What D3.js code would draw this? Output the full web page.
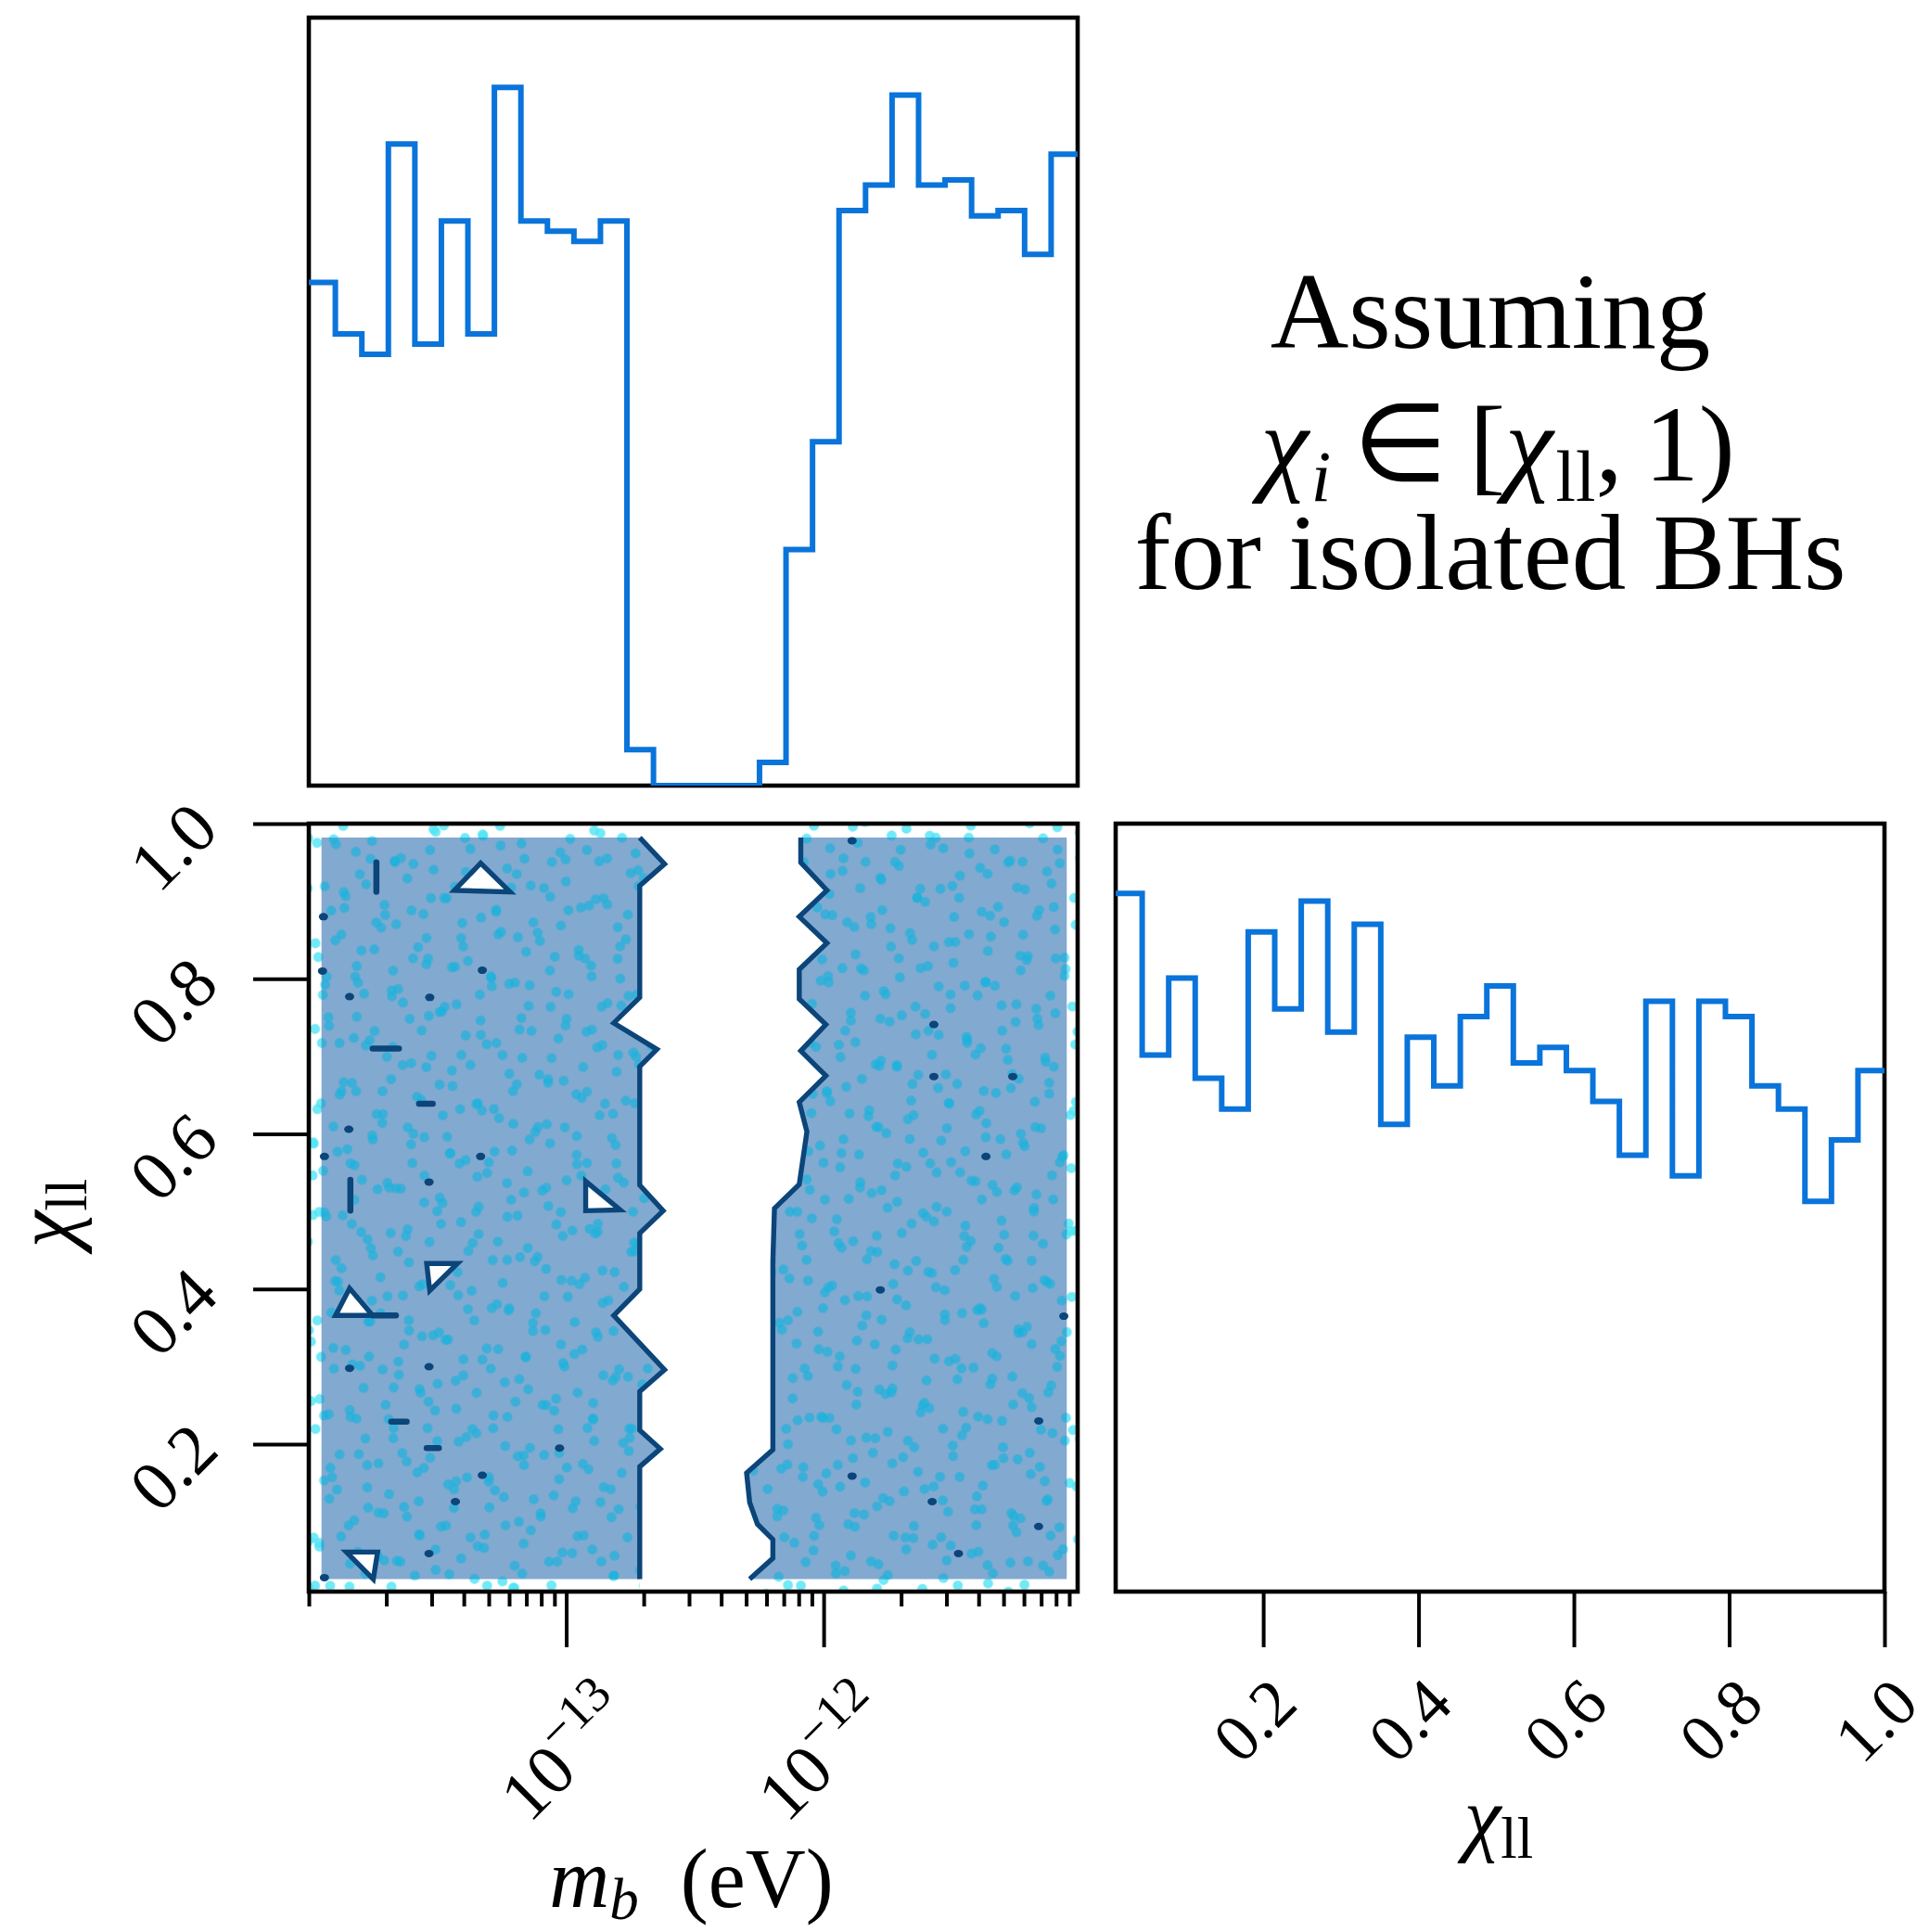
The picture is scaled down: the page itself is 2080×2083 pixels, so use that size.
<!DOCTYPE html>
<html>
<head>
<meta charset="utf-8">
<script src="https://cdn.jsdelivr.net/npm/d3@7"></script>
<style>
  html, body { margin: 0; padding: 0; background: #ffffff; }
  svg { display: block; }
  text { font-family: "Liberation Serif", "Times New Roman", serif; fill: #000; }
</style>
</head>
<body>
<svg id="chart" width="2080" height="2083"></svg>
<script>
// ---------------- data ----------------
// marginal histogram of the boson mass m_b (29 log-spaced bins)
const mbBinCounts = [98, 88, 84, 125, 86, 110, 88, 136, 110, 108, 106, 110, 7, 0, 0, 0, 0,
                     4.5, 46, 67, 112, 117, 134.5, 117, 118, 111, 112, 103.5, 123];
// marginal histogram of chi_ll (29 linear bins)
const chiBinCounts = [136, 104.5, 119.5, 100, 94, 128.5, 113.5, 134.5, 109, 130, 91, 108, 98.5,
                      112, 118, 103, 106, 101.5, 95.5, 85, 115, 81, 115, 112, 98.5, 94, 76, 88, 101.5];

const mbRange = [1e-14, 9.7e-12];
const chiRange = [0.01, 1.0];

const mbTickValues = [1e-13, 1e-12];
const mbTickExponents = ["\u221213", "\u221212"];
const chiTickValues = [0.2, 0.4, 0.6, 0.8, 1.0];
const chiTickLabels = ["0.2", "0.4", "0.6", "0.8", "1.0"];

// extent of the density grid used for the filled contour
const gridMb = [1.12e-14, 8.8e-12];
const gridChi = [0.026, 0.982];

// contour bounding the excluded band in (m_b, chi_ll): low-mass side, top to bottom
const gapLeftEdge = [
  [1.93e-13, 0.982], [2.41e-13, 0.948], [1.93e-13, 0.920], [1.93e-13, 0.776],
  [1.53e-13, 0.743], [2.25e-13, 0.709], [1.93e-13, 0.687], [1.93e-13, 0.534],
  [2.38e-13, 0.501], [1.93e-13, 0.472], [1.93e-13, 0.400], [1.53e-13, 0.366],
  [2.41e-13, 0.296], [1.93e-13, 0.268], [1.93e-13, 0.218], [2.32e-13, 0.194],
  [1.93e-13, 0.171], [1.93e-13, 0.026]
];
// high-mass side, top to bottom
const gapRightEdge = [
  [8.15e-13, 0.982], [8.15e-13, 0.950], [1.03e-12, 0.914], [8.04e-13, 0.880],
  [1.03e-12, 0.846], [8.04e-13, 0.812], [8.04e-13, 0.774], [1.02e-12, 0.741],
  [8.15e-13, 0.707], [1.02e-12, 0.675], [8.04e-13, 0.641], [8.61e-13, 0.603],
  [8.04e-13, 0.535], [6.44e-13, 0.504], [6.35e-13, 0.436], [6.35e-13, 0.193],
  [5.02e-13, 0.163], [5.16e-13, 0.125], [5.53e-13, 0.097], [6.35e-13, 0.077],
  [6.35e-13, 0.053], [5.16e-13, 0.026]
];

// small closed contour islands (holes in the filled region)
const contourTriangles = [
  [[3.68e-14, 0.914], [4.65e-14, 0.949], [6.05e-14, 0.912]],
  [[1.19e-13, 0.539], [1.19e-13, 0.501], [1.62e-13, 0.502]],
  [[2.87e-14, 0.433], [3.78e-14, 0.433], [2.95e-14, 0.398]],
  [[1.27e-14, 0.366], [1.44e-14, 0.401], [1.77e-14, 0.366]],
  [[1.40e-14, 0.061], [1.85e-14, 0.061], [1.78e-14, 0.026]]
];
// degenerate contour pieces (short segments)
const contourDashes = [
  [[1.83e-14, 0.950], [1.83e-14, 0.912]],
  [[1.77e-14, 0.710], [2.24e-14, 0.710]],
  [[2.68e-14, 0.639], [3.03e-14, 0.639]],
  [[1.45e-14, 0.541], [1.45e-14, 0.501]],
  [[1.77e-14, 0.366], [2.18e-14, 0.366]],
  [[2.09e-14, 0.229], [2.40e-14, 0.229]],
  [[2.87e-14, 0.195], [3.20e-14, 0.195]]
];
// single-cell contour specks
const contourSpecks = [
  [1.14e-14, 0.880], [1.13e-14, 0.810], [4.72e-14, 0.811], [1.44e-14, 0.777],
  [2.95e-14, 0.776], [1.43e-14, 0.606], [1.15e-14, 0.571], [4.65e-14, 0.571],
  [2.93e-14, 0.538], [1.44e-14, 0.298], [2.93e-14, 0.300], [9.42e-14, 0.195],
  [4.72e-14, 0.160], [3.71e-14, 0.126], [2.93e-14, 0.059], [1.15e-14, 0.028],
  [1.29e-12, 0.978], [2.68e-12, 0.741], [2.68e-12, 0.674], [5.43e-12, 0.674],
  [4.27e-12, 0.571], [1.66e-12, 0.399], [8.57e-12, 0.365], [6.85e-12, 0.230],
  [1.29e-12, 0.159], [2.64e-12, 0.126], [6.84e-12, 0.094], [3.34e-12, 0.059]
];

// ---------------- layout & style ----------------
const panels = {
  top:   { left: 333,  right: 1162, top: 19,  bottom: 847 },
  joint: { left: 333,  right: 1162, top: 888, bottom: 1716 },
  side:  { left: 1203, right: 2032, top: 888, bottom: 1716 }
};
const histColor = "#0a74da";
const fillColor = "#82a9d0";
const contourColor = "#0b457a";
const sampleColor = "#18b2dc";
const sampleEdgeColor = "#4fe3f4";
const tickFont = 76;
const sideTickFont = 72;
const labelFont = 90;
const frameWidth = 4.6;
// dot lattices used as the texture of the sample cloud
const speckleLayers = [
  { w: 43, h: 49, rot: 13 }, { w: 55, h: 40, rot: 71 }, { w: 47, h: 54, rot: -37 },
  { w: 60, h: 45, rot: 118 }, { w: 51, h: 63, rot: 29 }
];
const speckleRadius = 5.4;

const svg = d3.select("#chart");
const defs = svg.append("defs");

// ---------------- scales ----------------
const xMb = d3.scaleLog().domain(mbRange).range([panels.joint.left, panels.joint.right]);
const yChi = d3.scaleLinear().domain(chiRange).range([panels.joint.bottom, panels.joint.top]);
const xChi = d3.scaleLinear().domain(chiRange).range([panels.side.left, panels.side.right]);
const yTop = d3.scaleLinear().domain([0, 1.1 * d3.max(mbBinCounts)]).range([panels.top.bottom, panels.top.top]);
const ySide = d3.scaleLinear().domain([0, 1.1 * d3.max(chiBinCounts)]).range([panels.side.bottom, panels.side.top]);

// ---------------- helpers ----------------
function stepPoints(counts, edges) {
  const pts = [];
  counts.forEach((c, i) => { pts.push([edges[i], c]); pts.push([edges[i + 1], c]); });
  return pts;
}
function clipRect(id, p) {
  defs.append("clipPath").attr("id", id).append("rect")
    .attr("x", p.left).attr("y", p.top - 10)
    .attr("width", p.right - p.left).attr("height", p.bottom - p.top + 10);
}
function frame(p) {
  svg.append("rect").attr("x", p.left).attr("y", p.top)
    .attr("width", p.right - p.left).attr("height", p.bottom - p.top)
    .attr("fill", "none").attr("stroke", "#000").attr("stroke-width", frameWidth);
}
const polyPath = pts => "M" + pts.map(p => p[0].toFixed(2) + "," + p[1].toFixed(2)).join("L") + "Z";
const dataLine = d3.line().x(d => xMb(d[0])).y(d => yChi(d[1]));

// ---------------- top marginal histogram ----------------
{
  const p = panels.top;
  const lo = Math.log10(mbRange[0]), hi = Math.log10(mbRange[1]);
  const n = mbBinCounts.length;
  const edges = d3.range(n + 1).map(i => Math.pow(10, lo + (hi - lo) * i / n));
  clipRect("clipTop", p);
  frame(p);
  svg.append("path")
    .attr("clip-path", "url(#clipTop)")
    .attr("d", d3.line().x(d => xMb(d[0])).y(d => yTop(d[1]))(stepPoints(mbBinCounts, edges)))
    .attr("fill", "none").attr("stroke", histColor).attr("stroke-width", 6)
    .attr("stroke-linejoin", "miter");
}

// ---------------- side marginal histogram ----------------
{
  const p = panels.side;
  const n = chiBinCounts.length;
  const edges = d3.range(n + 1).map(i => chiRange[0] + (chiRange[1] - chiRange[0]) * i / n);
  clipRect("clipSide", p);
  frame(p);
  svg.append("path")
    .attr("clip-path", "url(#clipSide)")
    .attr("d", d3.line().x(d => xChi(d[0])).y(d => ySide(d[1]))(stepPoints(chiBinCounts, edges)))
    .attr("fill", "none").attr("stroke", histColor).attr("stroke-width", 6)
    .attr("stroke-linejoin", "miter");
}

// ---------------- joint panel ----------------
{
  const p = panels.joint;
  // dot textures
  function makePatterns(prefix, color, opacity) {
    speckleLayers.forEach((l, i) => {
      const pat = defs.append("pattern").attr("id", prefix + i)
        .attr("patternUnits", "userSpaceOnUse")
        .attr("width", l.w).attr("height", l.h)
        .attr("patternTransform", `rotate(${l.rot})`);
      pat.append("circle").attr("cx", l.w / 2).attr("cy", l.h / 2).attr("r", speckleRadius)
        .attr("fill", color).attr("fill-opacity", opacity);
    });
  }
  makePatterns("edgeDots", sampleEdgeColor, 0.8);
  makePatterns("cloudDots", sampleColor, 0.66);

  const T = p.top + 2, B = p.bottom - 2, L = p.left + 2, R = p.right - 2;
  const leftPx = gapLeftEdge.map(d => [xMb(d[0]), yChi(d[1])]);
  const rightPx = gapRightEdge.map(d => [xMb(d[0]), yChi(d[1])]);

  // region holding samples (whole frame except the excluded band)
  const sampleLeft = [[L, T], [leftPx[0][0], T], ...leftPx, [leftPx[leftPx.length - 1][0], B], [L, B]];
  const sampleRight = [[rightPx[0][0], T], ...rightPx, [rightPx[rightPx.length - 1][0], B], [R, B], [R, T]];
  const sampleD = polyPath(sampleLeft) + polyPath(sampleRight);
  defs.append("clipPath").attr("id", "clipSamples").append("path").attr("d", sampleD);

  // filled contour region
  const gx0 = xMb(gridMb[0]), gx1 = xMb(gridMb[1]);
  const gy0 = yChi(gridChi[0]), gy1 = yChi(gridChi[1]);
  const fillLeft = [[gx0, gy1], ...leftPx, [gx0, gy0]];
  const fillRight = [...rightPx, [gx1, gy0], [gx1, gy1]];
  const fillD = polyPath(fillLeft) + polyPath(fillRight);
  defs.append("clipPath").attr("id", "clipFill").append("path").attr("d", fillD);

  const edgeLayer = svg.append("g").attr("clip-path", "url(#clipSamples)");
  speckleLayers.forEach((l, i) => {
    edgeLayer.append("rect").attr("x", p.left).attr("y", p.top)
      .attr("width", p.right - p.left).attr("height", p.bottom - p.top)
      .attr("fill", `url(#edgeDots${i})`);
  });

  svg.append("path").attr("d", fillD).attr("fill", fillColor);

  const cloudLayer = svg.append("g").attr("clip-path", "url(#clipFill)");
  speckleLayers.forEach((l, i) => {
    cloudLayer.append("rect").attr("x", p.left).attr("y", p.top)
      .attr("width", p.right - p.left).attr("height", p.bottom - p.top)
      .attr("fill", `url(#cloudDots${i})`);
  });

  const contours = svg.append("g").attr("fill", "none").attr("stroke", contourColor)
    .attr("stroke-width", 5.4).attr("stroke-linejoin", "miter").attr("stroke-miterlimit", 6);
  contours.append("path").attr("d", dataLine(gapLeftEdge));
  contours.append("path").attr("d", dataLine(gapRightEdge));
  contourTriangles.forEach(tri => {
    contours.append("path").attr("d", dataLine(tri) + "Z").attr("fill", "#ffffff");
  });
  contourDashes.forEach(seg => {
    contours.append("path").attr("d", dataLine(seg)).attr("stroke-width", 6.5)
      .attr("stroke-linecap", "round");
  });
  svg.append("g").selectAll("ellipse").data(contourSpecks).join("ellipse")
    .attr("cx", d => xMb(d[0])).attr("cy", d => yChi(d[1]))
    .attr("rx", 5).attr("ry", 4).attr("fill", contourColor);

  frame(p);
}

// ---------------- axes ----------------
function styleAxis(g) {
  g.select(".domain").remove();
  g.selectAll(".tick line").attr("stroke", "#000").attr("stroke-width", 4);
  g.selectAll(".tick text").remove();
}
// m_b axis: minor ticks at 2..9 x 10^k, majors at the decades
const minorMb = [];
for (let k = -14; k <= -12; k++) {
  for (let m = 1; m <= 9; m++) {
    const v = m * Math.pow(10, k);
    if (mbTickValues.some(t => Math.abs(t - v) / t < 1e-9)) continue;
    if (v >= mbRange[0] * 0.9999 && v <= mbRange[1]) minorMb.push(v);
  }
}
svg.append("g").attr("transform", `translate(0,${panels.joint.bottom})`)
  .call(d3.axisBottom(xMb).tickValues(minorMb).tickSize(16).tickFormat(""))
  .call(styleAxis);
svg.append("g").attr("transform", `translate(0,${panels.joint.bottom})`)
  .call(d3.axisBottom(xMb).tickValues(mbTickValues).tickSize(60).tickFormat(""))
  .call(styleAxis);
svg.append("g").attr("transform", `translate(${panels.joint.left},0)`)
  .call(d3.axisLeft(yChi).tickValues(chiTickValues).tickSize(60).tickFormat(""))
  .call(styleAxis);
svg.append("g").attr("transform", `translate(0,${panels.side.bottom})`)
  .call(d3.axisBottom(xChi).tickValues(chiTickValues).tickSize(60).tickFormat(""))
  .call(styleAxis);

// rotated tick labels
const labels = svg.append("g");
mbTickValues.forEach((v, i) => {
  const t = labels.append("text")
    .attr("transform", `translate(${xMb(v) - 4},${1888}) rotate(-45)`)
    .attr("text-anchor", "middle").attr("font-size", tickFont);
  t.append("tspan").attr("dy", "0.4em").text("10");
  t.append("tspan").attr("dy", "-0.6em").attr("font-size", tickFont * 0.72).text(mbTickExponents[i]);
});
chiTickValues.forEach((v, i) => {
  labels.append("text")
    .attr("transform", `translate(186,${yChi(v) + 24}) rotate(-45)`)
    .attr("text-anchor", "middle").attr("dy", "0.35em").attr("font-size", tickFont)
    .text(chiTickLabels[i]);
  labels.append("text")
    .attr("transform", `translate(${xChi(v) - 10},1854) rotate(-45)`)
    .attr("text-anchor", "middle").attr("dy", "0.35em").attr("font-size", sideTickFont)
    .text(chiTickLabels[i]);
});

// axis titles
{
  const t = svg.append("text").attr("x", (panels.joint.left + panels.joint.right) / 2 - 2)
    .attr("y", 2056).attr("text-anchor", "middle").attr("font-size", labelFont);
  t.append("tspan").attr("font-style", "italic").text("m");
  t.append("tspan").attr("font-style", "italic").attr("font-size", labelFont * 0.7).attr("dy", 13).text("b");
  t.append("tspan").attr("dy", -13).text("\u2002(eV)");

  const cx = svg.append("text").attr("x", 1616).attr("y", 1990)
    .attr("text-anchor", "middle").attr("font-size", labelFont);
  cx.append("tspan").attr("font-style", "italic").text("\u03c7");
  cx.append("tspan").attr("font-size", labelFont * 0.7).attr("dy", 13).text("ll");

  const cy = svg.append("text").attr("transform", "translate(80,1308) rotate(-90)")
    .attr("text-anchor", "middle").attr("font-size", labelFont);
  cy.append("tspan").attr("font-style", "italic").text("\u03c7");
  cy.append("tspan").attr("font-size", labelFont * 0.7).attr("dy", 13).text("ll");
}

// annotation block
{
  const cx = 1607, fs = 117;
  svg.append("text").attr("x", cx).attr("y", 375).attr("text-anchor", "middle")
    .attr("font-size", fs).text("Assuming");
  const l2 = svg.append("text").attr("x", cx + 8).attr("y", 518).attr("text-anchor", "middle")
    .attr("font-size", fs);
  l2.append("tspan").attr("font-style", "italic").text("\u03c7");
  l2.append("tspan").attr("font-style", "italic").attr("font-size", fs * 0.66).attr("dx", 3).attr("dy", 22).text("i");
  l2.append("tspan").attr("dy", -22).text("\u2009\u2208\u2009[");
  l2.append("tspan").attr("font-style", "italic").text("\u03c7");
  l2.append("tspan").attr("font-size", fs * 0.66).attr("dx", 3).attr("dy", 22).text("ll");
  l2.append("tspan").attr("dy", -22).text(",\u20091)");
  svg.append("text").attr("x", cx).attr("y", 635).attr("text-anchor", "middle")
    .attr("font-size", fs).text("for isolated BHs");
}
</script>
</body>
</html>
